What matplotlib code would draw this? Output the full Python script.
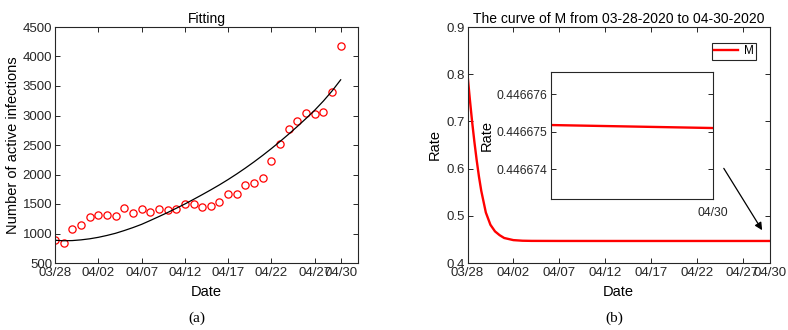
import numpy as np
import matplotlib
matplotlib.use("Agg")
import matplotlib.pyplot as plt

plt.rcParams["font.family"] = ["Liberation Sans", "DejaVu Sans"]

# --- adatok ---
date_labels = ["03/28", "04/02", "04/07", "04/12", "04/17", "04/22", "04/27", "04/30"]
date_ticks = [0, 5, 10, 15, 20, 25, 30, 33]

# aktiv fertozottek (napok 0..33)
days = list(range(34))
active = [890, 840, 1070, 1137, 1273, 1307, 1307, 1295, 1425, 1352,
          1414, 1363, 1414, 1391, 1414, 1504, 1493, 1442, 1459, 1538,
          1662, 1668, 1820, 1848, 1944, 2226, 2525, 2774, 2903, 3039,
          3027, 3067, 3394, 4178]
fitted = [885, 877, 880, 892, 910, 935, 967, 1004, 1050, 1100,
          1155, 1220, 1287, 1355, 1427, 1500, 1578, 1658, 1740, 1825,
          1915, 2010, 2110, 2215, 2325, 2440, 2560, 2685, 2815, 2950,
          3090, 3245, 3415, 3605]

# M gorbe
m_t = [0, 0.25, 0.5, 0.75, 1, 1.25, 1.5, 2, 2.5, 3, 3.5, 4, 5, 6, 7, 10, 15, 20, 25, 30, 33]
m_val = [0.800, 0.748, 0.700, 0.657, 0.618, 0.583, 0.553, 0.507, 0.481, 0.467,
         0.459, 0.453, 0.4485, 0.4472, 0.44685, 0.44672, 0.446677, 0.446676,
         0.4466755, 0.4466752, 0.4466751]
inset_t = [31, 32, 33]
inset_m = [0.44667518, 0.44667514, 0.44667510]

edge = "#262626"

def matlab_style(ax, size=9.5):
    for s in ax.spines.values():
        s.set_color(edge)
        s.set_linewidth(0.8)
    ax.tick_params(direction="in", top=True, right=True, length=3.5,
                   colors=edge, labelsize=size, width=0.7)
    ax.tick_params(axis="y", pad=2)

fig = plt.figure(figsize=(7.88, 3.30), dpi=100, facecolor="white")

# --- (a) ---
ax1 = fig.add_axes([55 / 788, 67 / 330, 303 / 788, 236 / 330])
ax1.plot(days, active, "o", mfc="none", mec="red", ms=5.2, mew=0.9)
ax1.plot(days, fitted, color="black", lw=0.9)
ax1.set_xlim(0, 35)
ax1.set_ylim(500, 4500)
ax1.set_xticks(date_ticks)
ax1.set_xticklabels(date_labels)
ax1.set_yticks(np.arange(500, 4501, 500))
ax1.set_title("Fitting", fontsize=10, pad=3, color="black")
ax1.set_xlabel("Date", fontsize=10.5, labelpad=4)
ax1.set_ylabel("Number of active infections", fontsize=10.5, labelpad=2)
matlab_style(ax1)
ax1.tick_params(axis="x", pad=3)

# --- (b) ---
ax2 = fig.add_axes([467.5 / 788, 67 / 330, 302.5 / 788, 236 / 330])
ax2.plot(m_t, m_val, color="red", lw=1.7, label="M")
ax2.set_xlim(0, 33)
ax2.set_ylim(0.4, 0.9)
ax2.set_xticks(date_ticks)
ax2.set_xticklabels(date_labels)
ax2.set_yticks(np.arange(0.4, 0.91, 0.1))
ax2.set_yticklabels([f"{v:.1f}" for v in np.arange(0.4, 0.91, 0.1)])
ax2.set_title("The curve of M from 03-28-2020 to 04-30-2020", fontsize=10, pad=3, color="black")
ax2.set_xlabel("Date", fontsize=10.5, labelpad=4)
ax2.set_ylabel("Rate", fontsize=10.5, labelpad=3)
matlab_style(ax2)
ax2.tick_params(axis="x", pad=3)
leg = ax2.legend(loc="upper right", bbox_to_anchor=(0.954, 0.932), fontsize=8.5,
                 frameon=True, fancybox=False, edgecolor=edge, framealpha=1,
                 handlelength=2.0, borderpad=0.2, handletextpad=0.5,
                 borderaxespad=0)
leg.get_frame().set_linewidth(0.8)
ax2.annotate("", xy=(32.3, 0.4645), xytext=(27.8, 0.6055),
             arrowprops=dict(arrowstyle="-|>", color="black", lw=0.9,
                             mutation_scale=11))

# --- inset ---
ax3 = fig.add_axes([551 / 788, 131 / 330, 162 / 788, 127 / 330])
ax3.plot(inset_t, inset_m, color="red", lw=1.7)
ax3.set_xlim(31, 33)
ax3.set_ylim(0.4466732, 0.4466766)
ax3.set_yticks([0.446674, 0.446675, 0.446676])
ax3.set_yticklabels(["0.446674", "0.446675", "0.446676"])
ax3.set_xticks([33])
ax3.set_xticklabels(["04/30"])
ax3.set_ylabel("Rate", fontsize=10.5, labelpad=2)
matlab_style(ax3, size=8.7)
ax3.tick_params(axis="y", pad=3)
ax3.tick_params(axis="x", length=0, pad=6)

# alfeliratok
fig.text(197 / 788, 1 - 318 / 330, "(a)", ha="center", va="center",
         fontsize=11, family="Liberation Serif")
fig.text(614 / 788, 1 - 318 / 330, "(b)", ha="center", va="center",
         fontsize=11, family="Liberation Serif")

fig.savefig("out.png", dpi=100, facecolor="white")
